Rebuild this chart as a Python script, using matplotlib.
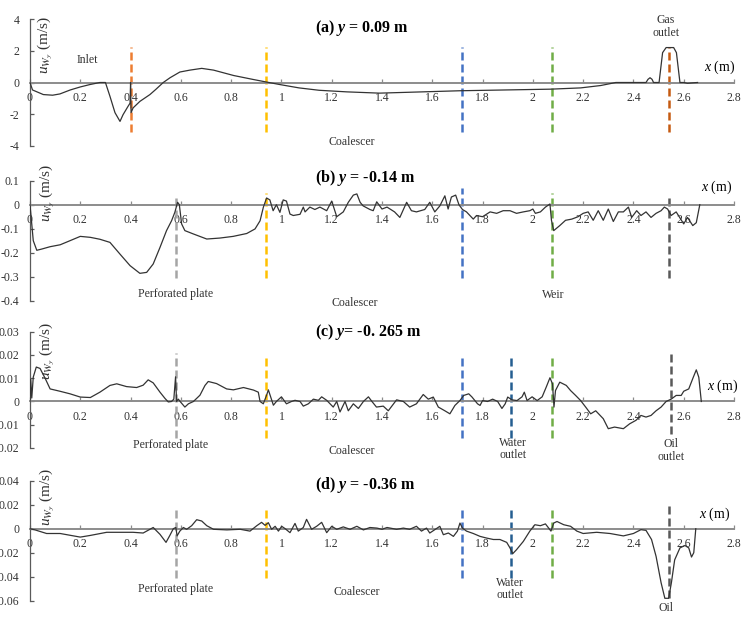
import numpy as np
import matplotlib
matplotlib.use('Agg')
import matplotlib.pyplot as plt
from matplotlib.ticker import FixedLocator, FuncFormatter

plt.rcParams['font.family'] = ['Liberation Serif', 'DejaVu Serif']
plt.rcParams['axes.unicode_minus'] = False
plt.rcParams['mathtext.fontset'] = 'custom'
plt.rcParams['mathtext.rm'] = 'Liberation Serif'
plt.rcParams['mathtext.it'] = 'Liberation Serif:italic'
plt.rcParams['mathtext.bf'] = 'Liberation Serif:bold'
plt.rcParams['mathtext.bfit'] = 'Liberation Serif:italic:bold'

# ---------------- data ----------------
x_ticks = [0, 0.2, 0.4, 0.6, 0.8, 1.0, 1.2, 1.4, 1.6, 1.8, 2.0, 2.2, 2.4, 2.6, 2.8]

# (a) y = 0.09 m
xa = [0, 0.01, 0.053, 0.09, 0.119, 0.16, 0.2, 0.238, 0.278, 0.30, 0.318, 0.338, 0.358, 0.37, 0.39,
      0.398, 0.400, 0.402, 0.41, 0.437, 0.477, 0.50, 0.53, 0.557, 0.596, 0.636, 0.683, 0.73, 0.81,
      0.888, 0.94, 0.994, 1.07, 1.15, 1.26, 1.39, 1.71, 2.07, 2.19, 2.27, 2.33, 2.45, 2.458, 2.466,
      2.474, 2.48, 2.502, 2.516, 2.53, 2.56, 2.571, 2.585, 2.60, 2.615, 2.63, 2.655]
ya = [0, -0.47, -0.76, -0.8, -0.72, -0.47, -0.28, -0.13, 0, 0, -0.87, -1.9, -2.45, -2.03, -1.5,
      -1.3, 0, -1.9, -1.6, -1.19, -0.76, -0.44, 0, 0.3, 0.66, 0.78, 0.89, 0.78, 0.44,
      0.19, 0.03, -0.13, -0.34, -0.49, -0.59, -0.67, -0.52, -0.42, -0.34, -0.19, 0, 0, 0.2, 0.3,
      0.2, 0, 0, 1.88, 2.2, 2.2, 1.88, 0, 0, -0.05, -0.03, 0]

# (b) y = -0.14 m
xb = [0, 0.013, 0.027, 0.046, 0.08, 0.12, 0.159, 0.2, 0.24, 0.278, 0.318, 0.358, 0.398, 0.437,
      0.464, 0.49, 0.517, 0.543, 0.563, 0.576, 0.587, 0.594, 0.603, 0.616, 0.65, 0.703, 0.755,
      0.808, 0.862, 0.895, 0.915, 0.928, 0.941, 0.954, 0.967, 0.98, 0.994, 1.007, 1.02, 1.034,
      1.047, 1.074, 1.087, 1.094, 1.113, 1.133, 1.153, 1.18, 1.2, 1.22, 1.246, 1.266, 1.286, 1.3,
      1.313, 1.325, 1.352, 1.365, 1.379, 1.4, 1.42, 1.45, 1.471, 1.498, 1.517, 1.537, 1.57, 1.59,
      1.61, 1.63, 1.65, 1.663, 1.676, 1.693, 1.706, 1.72, 1.736, 1.763, 1.776, 1.8, 1.83, 1.856,
      1.882, 1.909, 1.935, 1.962, 1.988, 2.0, 2.01, 2.03, 2.05, 2.068, 2.074, 2.083, 2.107, 2.13,
      2.155, 2.18, 2.2, 2.22, 2.24, 2.26, 2.28, 2.3, 2.32, 2.34, 2.36, 2.38, 2.393, 2.413, 2.43,
      2.45, 2.47, 2.49, 2.51, 2.523, 2.536, 2.55, 2.57, 2.6, 2.615, 2.636, 2.65, 2.664]
yb = [0, -0.15, -0.19, -0.185, -0.175, -0.167, -0.15, -0.132, -0.136, -0.144, -0.157, -0.206,
      -0.254, -0.286, -0.282, -0.247, -0.178, -0.108, -0.067, -0.032, 0.01, 0.0, -0.08, -0.108,
      -0.122, -0.143, -0.139, -0.132, -0.12, -0.101, -0.067, -0.011, 0.028, 0.02, -0.025, 0.0,
      -0.032, 0.02, 0.015, -0.039, -0.045, -0.04, -0.01, -0.03, -0.01, -0.02, -0.01, -0.025, 0.015,
      -0.05, -0.03, 0.01, 0.04, 0.045, 0.01, -0.005, -0.02, -0.025, 0.012, -0.018, -0.01, -0.03,
      -0.053, 0.01, -0.025, -0.03, -0.02, 0.01, -0.03, -0.005, 0.037, -0.018, 0.032, 0.04, 0.0,
      -0.02, -0.03, -0.06, -0.045, -0.05, -0.03, -0.036, -0.025, -0.025, -0.036, -0.03, -0.025,
      -0.018, -0.036, -0.03, -0.01, 0.003, -0.065, -0.108, -0.087, -0.065, -0.06, -0.05, -0.036,
      -0.03, -0.065, -0.025, -0.065, -0.018, -0.07, -0.03, -0.03, -0.01, -0.053, -0.025, -0.045,
      -0.03, -0.053, -0.036, -0.025, -0.01, -0.018, -0.045, -0.03, -0.08, -0.053, -0.087, -0.075,
      0.0]

# (c) y = -0.265 m
xc = [0, 0.003, 0.007, 0.013, 0.025, 0.04, 0.06, 0.08, 0.119, 0.159, 0.2, 0.24, 0.278, 0.318,
      0.345, 0.384, 0.424, 0.45, 0.47, 0.49, 0.517, 0.537, 0.55, 0.563, 0.572, 0.579, 0.583, 0.59,
      0.597, 0.616, 0.63, 0.65, 0.676, 0.696, 0.709, 0.742, 0.782, 0.809, 0.849, 0.889, 0.908,
      0.915, 0.928, 0.941, 0.948, 0.957, 0.968, 0.98, 1.0, 1.02, 1.04, 1.054, 1.074, 1.087, 1.107,
      1.127, 1.147, 1.16, 1.18, 1.206, 1.22, 1.233, 1.253, 1.266, 1.286, 1.306, 1.326, 1.346,
      1.36, 1.378, 1.405, 1.425, 1.458, 1.485, 1.51, 1.537, 1.564, 1.584, 1.604, 1.624, 1.65,
      1.67, 1.69, 1.71, 1.725, 1.745, 1.758, 1.78, 1.79, 1.80, 1.82, 1.84, 1.86, 1.877, 1.89, 1.9,
      1.917, 1.937, 1.957, 1.966, 1.977, 1.997, 2.017, 2.037, 2.054, 2.068, 2.078, 2.084, 2.09,
      2.107, 2.133, 2.15, 2.17, 2.19, 2.21, 2.23, 2.25, 2.28, 2.3, 2.325, 2.36, 2.385, 2.41, 2.43,
      2.45, 2.47, 2.49, 2.51, 2.53, 2.55, 2.57, 2.59, 2.6, 2.62, 2.638, 2.65, 2.66, 2.67]
yc = [0, 0.0095, 0.0015, 0.0105, 0.0148, 0.0142, 0.0100, 0.0054, 0.0044, 0.0033, 0.0019, 0.0017,
      0.004, 0.0069, 0.0076, 0.0064, 0.006, 0.007, 0.0093, 0.008, 0.004, 0.0013, -0.0002, 0.0,
      0.001, 0.0106, 0.0, 0.001, 0.0, -0.0024, -0.001, 0.0, 0.0027, 0.0069, 0.0086, 0.0077,
      0.0054, 0.005, 0.006, 0.0049, 0.004, 0.0, -0.001, 0.0027, 0.005, 0.002, -0.0016, 0.0, 0.002,
      -0.001, 0.0, 0.0005, 0.0, -0.002, -0.001, 0.001, 0.0005, 0.002, 0.0005, -0.0024, 0.0,
      -0.0045, 0.0, -0.004, -0.001, -0.003, 0.0, 0.002, 0.0, -0.0024, -0.002, -0.004, 0.0007, 0.0,
      -0.0024, -0.001, 0.003, 0.001, 0.0019, -0.0024, -0.004, -0.0053, -0.0017, 0.0004, 0.0026,
      0.0033, 0.0019, -0.001, -0.0017, 0.0004, 0.0, 0.001, 0.0, -0.003, -0.001, 0.0019, 0.0007,
      0.0004, 0.002, 0.004, 0.0004, 0.002, 0.0004, 0.002, 0.0064, 0.0102, 0.0076, -0.0024, 0.0047,
      0.0083, 0.0069, 0.0047, 0.0026, 0.0004, -0.0024, -0.0053, -0.004, -0.0074, -0.0117, -0.011,
      -0.0117, -0.0096, -0.0081, -0.006, -0.0067, -0.006, -0.004, -0.0024, 0.0, 0.001, 0.0026,
      0.0026, 0.0044, 0.0054, 0.0104, 0.0136, 0.0104, 0.0]

# (d) y = -0.36 m
xd = [0, 0.02, 0.066, 0.12, 0.2, 0.24, 0.305, 0.41, 0.45, 0.49, 0.517, 0.541, 0.557, 0.57, 0.58,
      0.585, 0.596, 0.61, 0.623, 0.643, 0.663, 0.683, 0.703, 0.73, 0.783, 0.836, 0.875, 0.902,
      0.921, 0.935, 0.948, 0.961, 0.975, 0.988, 1.001, 1.015, 1.034, 1.054, 1.067, 1.087, 1.1,
      1.12, 1.14, 1.16, 1.18, 1.2, 1.22, 1.246, 1.273, 1.3, 1.326, 1.352, 1.38, 1.40, 1.42, 1.458,
      1.485, 1.51, 1.537, 1.557, 1.577, 1.59, 1.61, 1.63, 1.644, 1.664, 1.684, 1.7, 1.71, 1.72,
      1.736, 1.763, 1.79, 1.816, 1.843, 1.869, 1.896, 1.909, 1.92, 1.935, 1.962, 1.988, 2.008,
      2.03, 2.05, 2.063, 2.072, 2.083, 2.096, 2.123, 2.15, 2.175, 2.2, 2.254, 2.307, 2.36, 2.4,
      2.43, 2.45, 2.472, 2.49, 2.51, 2.525, 2.54, 2.551, 2.564, 2.585, 2.605, 2.62, 2.631, 2.64,
      2.648]
yd = [0, -0.001, -0.004, -0.004, -0.007, -0.0056, -0.003, -0.003, -0.0036, 0.001, -0.0047,
      -0.0114, -0.0053, 0.0, 0.001, -0.006, -0.002, 0.001, -0.0005, 0.0025, 0.0075, 0.0064, 0.0025,
      -0.0005, -0.001, -0.0005, -0.002, 0.0025, 0.0053, 0.0028, 0.005, -0.0005, 0.002, -0.002,
      0.002, 0.0, -0.0033, 0.0044, -0.002, 0.001, 0.0078, -0.0005, 0.002, 0.0053, -0.0033, 0.002,
      -0.0005, 0.0015, -0.0005, 0.002, -0.001, 0.001, 0.0005, -0.0005, 0.001, -0.0005, 0.0005,
      -0.0005, 0.002, -0.002, 0.0005, -0.0036, -0.0008, 0.002, -0.005, -0.0036, -0.0064, -0.002,
      0.0047, 0.0005, -0.002, -0.004, -0.0064, -0.0078, -0.009, -0.009, -0.0114, -0.016, -0.0208,
      -0.0175, -0.0106, -0.002, 0.0033, 0.0025, 0.004, 0.0005, -0.002, 0.0047, 0.006, 0.0033,
      0.002, -0.002, -0.004, -0.003, -0.004, -0.006, -0.004, -0.0008, -0.0014, -0.009, -0.023,
      -0.045, -0.058, -0.058, -0.045, -0.026, -0.016, -0.014, -0.016, -0.0236, -0.02, 0.0]

# reference (dashed) positions
x_plate = 0.58
x_coal1 = 0.94
x_coal2 = 1.72
x_water = 1.915
x_weir = 2.075
x_top = 2.54

ORANGE, BROWN, YELLOW, BLUE = '#ED7D31', '#C55A11', '#FFC000', '#4472C4'
GREEN, GRAY, DGRAY, DBLUE = '#70AD47', '#A5A5A5', '#595959', '#255E91'

W, H = 745, 617
fig = plt.figure(figsize=(W / 100, H / 100), dpi=100)


def make_ax(top_px, bot_px, ylim, yticks):
    left, right = 30, 734
    ax = fig.add_axes([left / W, 1 - bot_px / H, (right - left) / W, (bot_px - top_px) / H])
    ax.set_xlim(0, 2.8)
    ax.set_ylim(*ylim)
    for s in ['top', 'right']:
        ax.spines[s].set_visible(False)
    ax.spines['bottom'].set_position(('data', 0))
    ax.spines['bottom'].set_color('#8c8c8c')
    ax.spines['bottom'].set_linewidth(1.4)
    ax.spines['left'].set_color('#5a5a5a')
    ax.spines['left'].set_linewidth(0.9)
    ax.xaxis.set_major_locator(FixedLocator(x_ticks))
    ax.xaxis.set_major_formatter(FuncFormatter(lambda v, p: '%g' % round(v, 2)))
    ax.yaxis.set_major_locator(FixedLocator(yticks))
    ax.yaxis.set_major_formatter(FuncFormatter(lambda v, p: '%g' % round(v, 3) if abs(v) > 1e-9 else '0'))
    ax.tick_params(axis='x', direction='in', length=3, width=0.9, color='#8c8c8c',
                   labelsize=8.5, pad=7, labelcolor='#333333')
    ax.tick_params(axis='y', direction='in', length=3, width=0.9, color='#5a5a5a',
                   labelsize=8.5, pad=7.5, labelcolor='#333333')
    ax.patch.set_alpha(0)
    return ax


def vlines(ax, items):
    for x, c, y0, y1 in items:
        ax.vlines(x, y0, y1, colors=c, linewidth=1.8, linestyles=(0, (3.2, 1.6)), zorder=2)


def deco(ax, title, title_px, xlab_px, ylab_px):
    fig.text(315 / W, 1 - title_px / H, title, fontsize=11.5, fontweight='bold',
             ha='left', va='center')
    fig.text(xlab_px[0] / W, 1 - xlab_px[1] / H, r'$x$ (m)', fontsize=10, ha='center', va='center')
    fig.text(ylab_px[0] / W, 1 - ylab_px[1] / H, r'$u_{W_y}$ (m/s)', fontsize=11,
             rotation=90, ha='center', va='center', color='#333333')


ann = dict(fontsize=8.5, ha='center', va='center', color='#333333', clip_on=False)

# (a)
ax = make_ax(19, 146, (-4, 4), [-4, -2, 0, 2, 4])
vlines(ax, [(0.40, ORANGE, -3.1, 2.25), (x_coal1, YELLOW, -3.1, 2.25), (x_coal2, BLUE, -3.1, 2.25),
            (x_weir, GREEN, -3.1, 2.25), (x_top, BROWN, -3.1, 2.25)])
ax.plot(xa, ya, color='#333333', lw=0.9, zorder=3)
ax.text(0.23, 1.4, 'Inlet', **ann)
ax.text(1.28, -3.75, 'Coalescer', **ann)
ax.text(2.53, 3.5, 'Gas\noutlet', linespacing=1.1, **ann)
deco(ax, r'(a) $\mathbfit{y}$ = 0.09 m', 28, (720, 67), (45, 45))

# (b)
ax = make_ax(180.7, 300.7, (-0.4, 0.1), [-0.4, -0.3, -0.2, -0.1, 0, 0.1])
vlines(ax, [(x_plate, GRAY, -0.305, 0.045), (x_coal1, YELLOW, -0.305, 0.05),
            (x_coal2, BLUE, -0.305, 0.07), (x_weir, GREEN, -0.305, 0.05),
            (x_top, DGRAY, -0.305, 0.045)])
ax.plot(xb, yb, color='#333333', lw=0.9, zorder=3)
ax.text(0.58, -0.371, 'Perforated plate', **ann)
ax.text(1.29, -0.408, 'Coalescer', **ann)
ax.text(2.08, -0.375, 'Weir', **ann)
deco(ax, r'(b) $\mathbfit{y}$ = -0.14 m', 178, (717, 187), (47, 193))

# (c)
ax = make_ax(331.7, 448, (-0.02, 0.03), [-0.02, -0.01, 0, 0.01, 0.02, 0.03])
vlines(ax, [(x_plate, GRAY, -0.0155, 0.021), (x_coal1, YELLOW, -0.0155, 0.0205),
            (x_coal2, BLUE, -0.0155, 0.0205), (x_water, DBLUE, -0.0155, 0.0205),
            (x_weir, GREEN, -0.0155, 0.0205), (2.55, DGRAY, -0.014, 0.0205)])
ax.plot(xc, yc, color='#333333', lw=0.9, zorder=3)
ax.text(0.56, -0.0185, 'Perforated plate', **ann)
ax.text(1.28, -0.0215, 'Coalescer', **ann)
ax.text(1.92, -0.0204, 'Water\noutlet', linespacing=1.05, **ann)
ax.text(2.55, -0.021, 'Oil\noutlet', linespacing=1.05, **ann)
deco(ax, r'(c) $\mathbfit{y}$= -0. 265 m', 332, (723, 386), (47, 351))

# (d)
ax = make_ax(480.7, 600.7, (-0.06, 0.04), [-0.06, -0.04, -0.02, 0, 0.02, 0.04])
vlines(ax, [(x_plate, GRAY, -0.041, 0.0186), (x_coal1, YELLOW, -0.041, 0.0186),
            (x_coal2, BLUE, -0.041, 0.0186), (x_water, DBLUE, -0.041, 0.0186),
            (x_weir, GREEN, -0.041, 0.0186), (x_top, DGRAY, -0.058, 0.0186)])
ax.plot(xd, yd, color='#333333', lw=0.9, zorder=3)
ax.text(0.577, -0.05, 'Perforated plate', **ann)
ax.text(1.30, -0.0525, 'Coalescer', **ann)
ax.text(1.91, -0.0504, 'Water\noutlet', linespacing=1.05, **ann)
ax.text(2.53, -0.066, 'Oil', **ann)
deco(ax, r'(d) $\mathbfit{y}$ = -0.36 m', 485, (715, 514), (47, 497))

fig.savefig('out.png', dpi=100)
